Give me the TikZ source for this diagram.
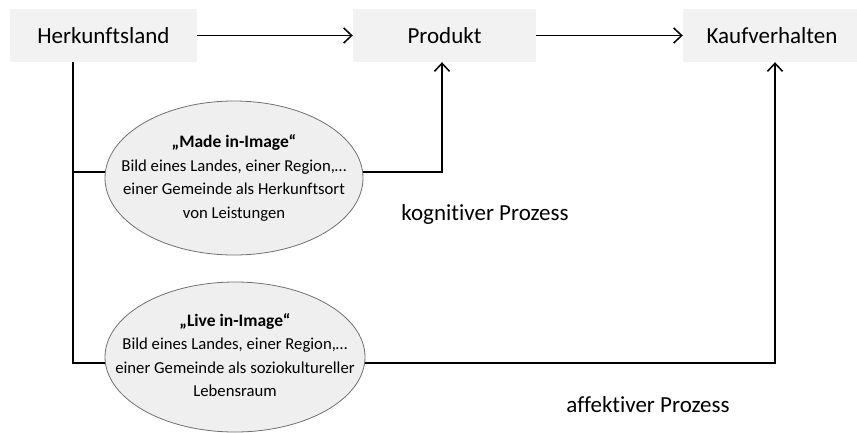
\documentclass[tikz,border=0pt]{standalone}
\usepackage{fontspec}
\setmainfont{Carlito}[Ligatures={NoCommon}]
\usetikzlibrary{arrows.meta,shapes.geometric}
\definecolor{boxfill}{HTML}{F2F2F2}
\definecolor{ellfill}{HTML}{EFEFEF}
\definecolor{ellline}{HTML}{707070}
\tikzset{
  box/.style={fill=boxfill, draw=none, minimum height=53pt, inner sep=0pt, font=\fontsize{23}{26}\selectfont},
  ell/.style={ellipse, fill=ellfill, draw=ellline, line width=0.8pt, inner sep=0pt},
  elltext/.style={inner sep=0pt, align=center, font=\fontsize{16.7}{23.5}\selectfont},
  conn/.style={line width=1.5pt, black},
  arr/.style={conn, -{Straight Barb[length=8pt, width=15pt, line width=1.5pt]}},
  lbl/.style={font=\fontsize{23}{26}\selectfont, inner sep=0pt}
}
\begin{document}
\begin{tikzpicture}[x=1pt, y=-1pt]
\useasboundingbox (0,0) rectangle (857,432);
\node[box, minimum width=187pt] (herk) at (103.5,35.5) {Herkunftsland};
\node[box, minimum width=183pt] (prod) at (444.5,35.5) {Produkt};
\node[box, minimum width=178pt] (kauf) at (772,35.5) {Kaufverhalten};
\node[ell, minimum width=258pt, minimum height=154pt] (e1) at (234,178) {};
\node[elltext] (t1) at (234,178)
  {\textbf{\fontsize{17.5}{23.5}\selectfont „Made in-Image“}\\Bild eines Landes, einer Region,…\\einer Gemeinde als Herkunftsort\\von Leistungen};
\node[ell, minimum width=260pt, minimum height=150pt] (e2) at (235,357) {};
\node[elltext] (t2) at (235,355)
  {\textbf{\fontsize{17.5}{23.5}\selectfont „Live in-Image“}\\Bild eines Landes, einer Region,…\\einer Gemeinde als soziokultureller\\Lebensraum};
\node[lbl] (kog) at (485,214) {kognitiver Prozess};
\node[lbl] (aff) at (648,405) {affektiver Prozess};
\coordinate (j1) at (73,172);
\coordinate (j2) at (73,363);
\coordinate (p1) at (442,172);
\coordinate (k1) at (775,363);
\draw[arr] (herk) -- (prod);
\draw[arr] (prod) -- (kauf);
\draw[conn] (j1 |- herk.south) -- (j2) -- (j2 -| e2.west);
\draw[conn] (j1) -- (j1 -| e1.west);
\draw[arr] (j1 -| e1.east) -- (p1) -- (p1 |- prod.south);
\draw[arr] (j2 -| e2.east) -- (k1) -- (k1 |- kauf.south);
\end{tikzpicture}
\end{document}
